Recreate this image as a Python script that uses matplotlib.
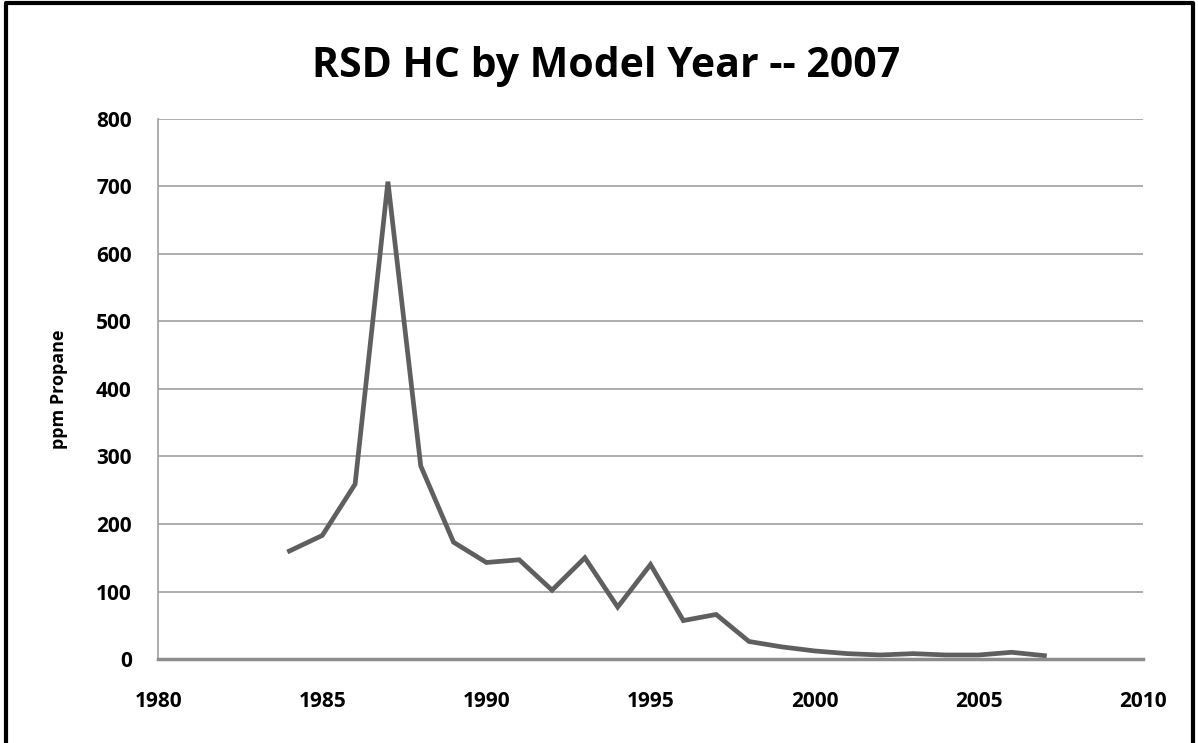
import matplotlib.pyplot as plt
from matplotlib.lines import Line2D

years = list(range(1984, 2008))
hc_ppm = [160, 183, 259, 707, 286, 173, 143, 147, 102, 150, 77, 140,
          57, 66, 26, 18, 12, 8, 6, 8, 6, 6, 10, 5]

plt.rcParams["font.family"] = ["Open Sans", "DejaVu Sans"]

fig = plt.figure(figsize=(11.98, 7.43), dpi=100)
ax = fig.add_axes([0.132, 0.113, 0.822, 0.727])

ax.plot(years, hc_ppm, color="#5f5f5f", linewidth=3.4, solid_joinstyle="miter")

ax.set_xlim(1980, 2010)
ax.set_ylim(0, 800)
ax.set_xticks(range(1980, 2011, 5))
ax.set_yticks(range(0, 801, 100))
ax.grid(axis="y", color="#a0a0a0", linewidth=1.2)
ax.set_axisbelow(True)
ax.tick_params(length=0, labelsize=15)
ax.tick_params(axis="x", pad=23)
ax.tick_params(axis="y", pad=19)
for lbl in ax.get_xticklabels() + ax.get_yticklabels():
    lbl.set_fontweight("bold")

for side in ["top", "right"]:
    ax.spines[side].set_visible(False)
ax.spines["left"].set_color("#a0a0a0")
ax.spines["left"].set_linewidth(1.2)
ax.spines["bottom"].set_color("#8c8c8c")
ax.spines["bottom"].set_linewidth(2.5)

ax.set_ylabel("ppm Propane", fontsize=13, fontweight="bold", labelpad=20)
fig.text(0.506, 0.896, "RSD HC by Model Year -- 2007", fontsize=29.5,
         fontweight="bold", ha="center", va="baseline")

# frame on left, top and right (bottom edge is cut off in the original)
fig.lines.append(Line2D([0.005, 0.005, 0.996, 0.996], [0.0, 0.996, 0.996, 0.0],
                        transform=fig.transFigure, color="black", linewidth=3))

fig.savefig("out.png", dpi=100)
